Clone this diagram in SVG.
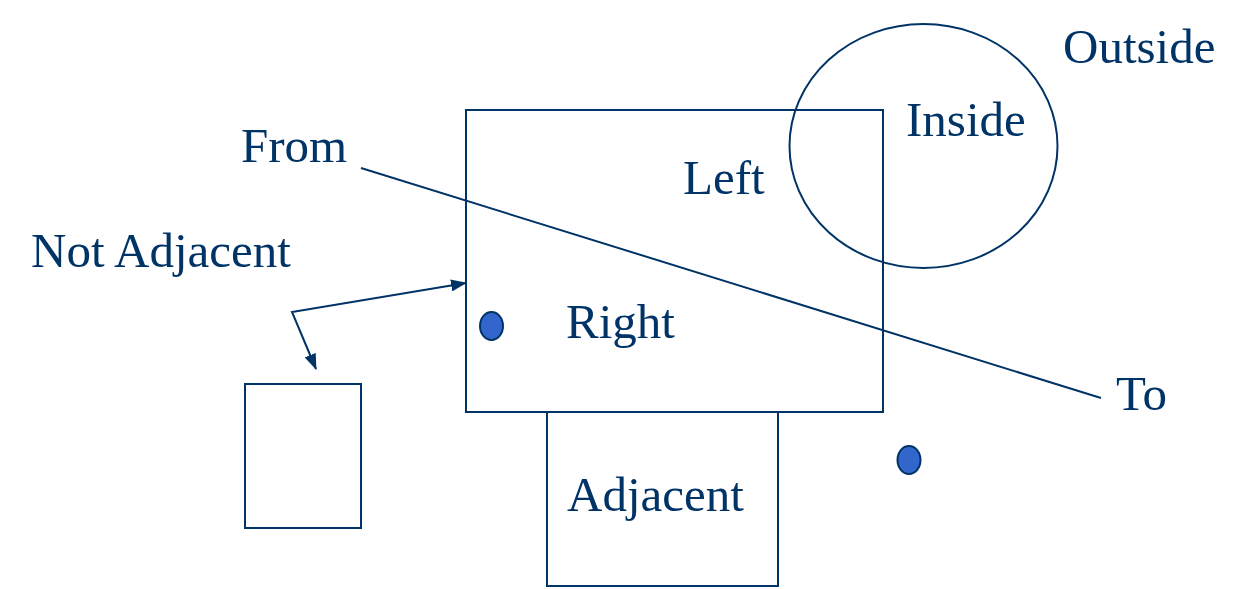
<svg xmlns="http://www.w3.org/2000/svg" width="1247" height="589" viewBox="0 0 1247 589">
<style>
.s{fill:none;stroke:#003366;stroke-width:2}
.t{font-family:'Liberation Serif','Times New Roman',Times,'DejaVu Serif',serif;font-size:49px;fill:#003366}
.dot{fill:#3366CC;stroke:#003366;stroke-width:2}
</style>
<defs>
<marker id="ah" viewBox="0 0 16 12" refX="15" refY="6" markerWidth="16" markerHeight="12" markerUnits="userSpaceOnUse" orient="auto-start-reverse">
<path d="M0,0 L16,6 L0,12 z" fill="#003366"/>
</marker>
</defs>
<rect width="1247" height="589" fill="#fff"/>
<g id="main-rect"><rect class="s" x="466" y="110" width="417" height="302"/></g>
<g id="adjacent-rect"><rect class="s" x="547" y="412" width="231" height="174"/></g>
<g id="small-rect"><rect class="s" x="245" y="384" width="116" height="144"/></g>
<g id="circle"><ellipse class="s" cx="923.5" cy="146" rx="134" ry="122"/></g>
<g id="dot1"><ellipse class="dot" cx="491.5" cy="326" rx="11.5" ry="14"/></g>
<g id="dot2"><ellipse class="dot" cx="909" cy="460" rx="11.5" ry="14"/></g>
<g id="connectors">
<line class="s" x1="361" y1="168" x2="1101" y2="398"/>
<path class="s" d="M466,283 L292,312 L316,369" marker-start="url(#ah)" marker-end="url(#ah)"/>
</g>
<g id="labels">
<text class="t" x="1063" y="63">Outside</text>
<text class="t" x="906" y="136">Inside</text>
<text class="t" x="241" y="162">From</text>
<text class="t" x="683" y="194">Left</text>
<text class="t" x="31" y="267">Not Adjacent</text>
<text class="t" x="566" y="338">Right</text>
<text class="t" x="1116" y="410">To</text>
<text class="t" x="567" y="511">Adjacent</text>
</g>
</svg>
